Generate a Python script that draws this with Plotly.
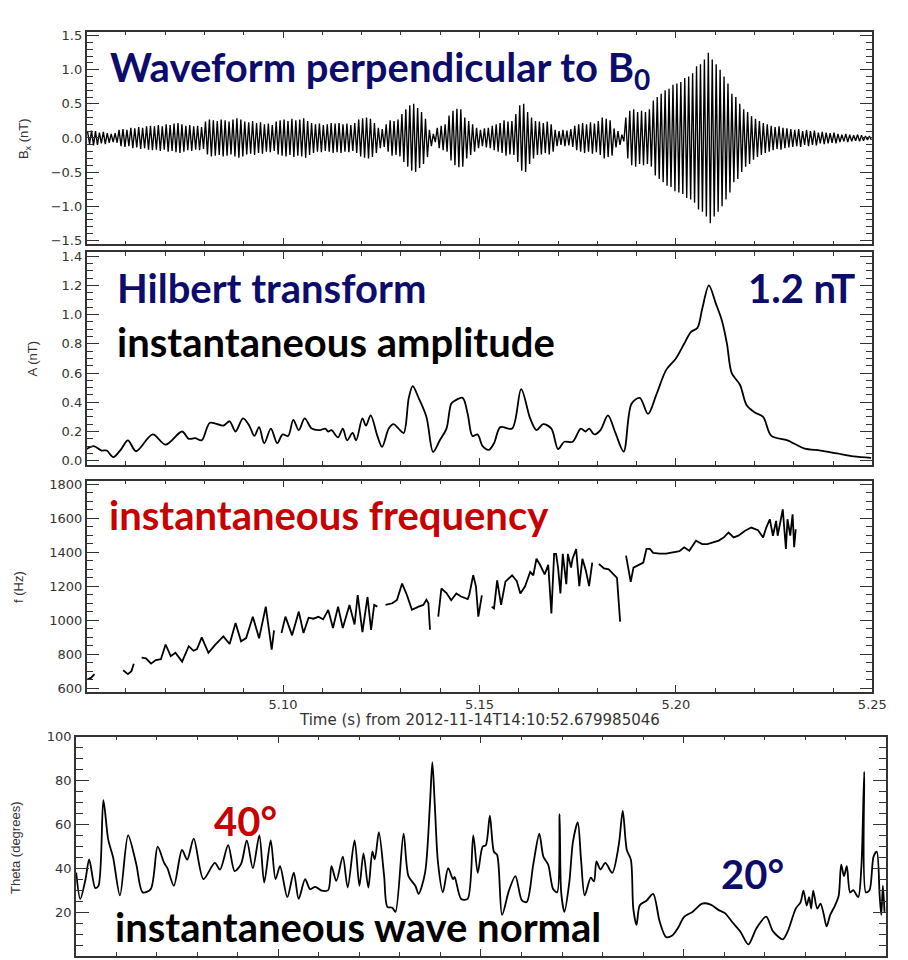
import plotly.graph_objects as go

# ---------------- data ----------------
# Panel 1: envelope of the perpendicular waveform (nT), read every 1 ms;
# each sample is drawn as one oscillation (crest then trough)
bx_start = 5.0505
bx_step = 0.001
bx_env = [
    0.09, 0.11, 0.10, 0.08, 0.09, 0.07, 0.06, 0.07, 0.12, 0.13,
    0.12, 0.15, 0.14, 0.16, 0.15, 0.17, 0.18, 0.17, 0.19, 0.17,
    0.20, 0.19, 0.21, 0.22, 0.20, 0.18, 0.19, 0.17, 0.18, 0.16,
    0.24, 0.27, 0.26, 0.25, 0.27, 0.26, 0.24, 0.27, 0.29, 0.27,
    0.24, 0.23, 0.25, 0.22, 0.23, 0.20, 0.21, 0.19, 0.24, 0.26,
    0.27, 0.25, 0.28, 0.26, 0.27, 0.29, 0.25, 0.22, 0.20, 0.21,
    0.19, 0.20, 0.22, 0.21, 0.22, 0.20, 0.21, 0.19, 0.22, 0.27,
    0.29, 0.30, 0.28, 0.22, 0.15, 0.13, 0.20, 0.26, 0.25, 0.27,
    0.35, 0.42, 0.48, 0.50, 0.44, 0.38, 0.28, 0.12, 0.06, 0.15,
    0.18, 0.20, 0.33, 0.40, 0.43, 0.42, 0.30, 0.25, 0.20, 0.15,
    0.12, 0.14, 0.15, 0.18, 0.20, 0.22, 0.26, 0.24, 0.25, 0.35,
    0.48, 0.50, 0.38, 0.30, 0.25, 0.24, 0.22, 0.24, 0.20, 0.12,
    0.10, 0.12, 0.11, 0.13, 0.18, 0.20, 0.22, 0.20, 0.23, 0.21,
    0.25, 0.30, 0.28, 0.26, 0.14, 0.10, 0.05, 0.30, 0.40, 0.42,
    0.38, 0.40, 0.38, 0.42, 0.55, 0.60, 0.65, 0.70, 0.72, 0.78,
    0.80, 0.82, 0.88, 0.90, 0.95, 1.05, 1.08, 1.15, 1.25, 1.15,
    1.08, 1.00, 0.90, 0.80, 0.65, 0.60, 0.50, 0.42, 0.38, 0.32,
    0.28, 0.25, 0.22, 0.20, 0.18, 0.16, 0.17, 0.15, 0.14, 0.13,
    0.12, 0.13, 0.10, 0.12, 0.10, 0.11, 0.08, 0.09, 0.08, 0.07,
    0.08, 0.06, 0.05, 0.06, 0.05, 0.04, 0.05, 0.04, 0.03, 0.03,
]
bx_t = [round(bx_start + i * bx_step, 4) for i in range(len(bx_env))]

# Panel 2: Hilbert instantaneous amplitude (nT)
amp_t = [5.0500, 5.0518, 5.0538, 5.0551, 5.0568, 5.0588, 5.0605, 5.0626, 5.0668, 5.0701,
         5.0743, 5.0760, 5.0776, 5.0793, 5.0814, 5.0848, 5.0864, 5.0879, 5.0898, 5.0914,
         5.0927, 5.0939, 5.0952, 5.0969, 5.0985, 5.0999, 5.1013, 5.1026, 5.1040, 5.1055,
         5.1073, 5.1094, 5.1107, 5.1115, 5.1123, 5.1140, 5.1152, 5.1163, 5.1177, 5.1186,
         5.1202, 5.1211, 5.1223, 5.1240, 5.1252, 5.1269, 5.1281, 5.1294, 5.1307, 5.1320,
         5.1330, 5.1345, 5.1365, 5.1382, 5.1399, 5.1416, 5.1428, 5.1437, 5.1457, 5.1470,
         5.1482, 5.1495, 5.1508, 5.1524, 5.1537, 5.1553, 5.1583, 5.1606, 5.1629, 5.1645,
         5.1662, 5.1683, 5.1700, 5.1716, 5.1737, 5.1758, 5.1770, 5.1779, 5.1792, 5.1808,
         5.1827, 5.1846, 5.1867, 5.1887, 5.1908, 5.1929, 5.1950, 5.1975, 5.2000, 5.2021,
         5.2038, 5.2055, 5.2067, 5.2084, 5.2101, 5.2117, 5.2130, 5.2142, 5.2163, 5.2180,
         5.2201, 5.2222, 5.2243, 5.2284, 5.2326, 5.2368, 5.2410, 5.2452, 5.2497]
amp_v = [0.08, 0.10, 0.07, 0.07, 0.025, 0.08, 0.14, 0.065, 0.18, 0.11,
         0.20, 0.15, 0.155, 0.14, 0.26, 0.24, 0.27, 0.20, 0.29, 0.24,
         0.17, 0.23, 0.12, 0.22, 0.12, 0.18, 0.17, 0.28, 0.21, 0.29,
         0.22, 0.21, 0.22, 0.20, 0.21, 0.16, 0.22, 0.14, 0.19, 0.14,
         0.29, 0.24, 0.31, 0.17, 0.095, 0.22, 0.25, 0.22, 0.19, 0.43,
         0.51, 0.43, 0.30, 0.06, 0.14, 0.22, 0.39, 0.41, 0.43, 0.32,
         0.17, 0.18, 0.10, 0.075, 0.12, 0.23, 0.22, 0.49, 0.29, 0.21,
         0.25, 0.22, 0.08, 0.13, 0.13, 0.22, 0.20, 0.22, 0.18, 0.21,
         0.31, 0.19, 0.063, 0.39, 0.43, 0.32, 0.45, 0.62, 0.70, 0.80,
         0.88, 0.91, 1.04, 1.20, 1.08, 0.96, 0.80, 0.60, 0.52, 0.38,
         0.33, 0.30, 0.17, 0.14, 0.085, 0.07, 0.05, 0.03, 0.02]

# Panel 3: instantaneous frequency (Hz); None marks gaps in the trace
freq_t = [5.0502, 5.0511, 5.0520, 5.0560,
          5.0593, 5.0605, 5.0614, 5.0620, 5.0630,
          5.0640, 5.0651, 5.0664, 5.0676, 5.0689, 5.0701, 5.0714, 5.0726, 5.0743, 5.0760,
          5.0772, 5.0781, 5.0793, 5.0810, 5.0827, 5.0848, 5.0864, 5.0879, 5.0893, 5.0906,
          5.0923, 5.0939, 5.0956, 5.0971, 5.0977, 5.0986,
          5.0996, 5.1006, 5.1023, 5.1040, 5.1052, 5.1065, 5.1077, 5.1090, 5.1102, 5.1115,
          5.1127, 5.1140, 5.1152, 5.1169, 5.1182, 5.1190, 5.1202, 5.1215, 5.1224, 5.1232,
          5.1240, 5.1250,
          5.1261, 5.1278, 5.1290, 5.1303, 5.1315, 5.1328, 5.1345, 5.1357, 5.1365, 5.1370,
          5.1374, 5.1385,
          5.1395, 5.1403, 5.1416, 5.1428, 5.1441, 5.1453, 5.1470, 5.1474, 5.1484, 5.1491,
          5.1497, 5.1506, 5.1518,
          5.1531, 5.1537, 5.1545, 5.1555, 5.1566, 5.1583, 5.1595, 5.1604, 5.1616, 5.1629,
          5.1637, 5.1645, 5.1654, 5.1666, 5.1675, 5.1683, 5.1690, 5.1695, 5.1700, 5.1706,
          5.1712, 5.1721, 5.1725, 5.1733, 5.1737, 5.1746, 5.1754, 5.1762, 5.1771, 5.1779,
          5.1787, 5.1795,
          5.1804, 5.1817, 5.1829, 5.1842, 5.1850, 5.1858, 5.1865,
          5.1873, 5.1879, 5.1885, 5.1892, 5.1904, 5.1917, 5.1925, 5.1934, 5.1942, 5.1959,
          5.1975, 5.1992, 5.2009, 5.2021, 5.2034, 5.2051, 5.2067, 5.2080, 5.2092, 5.2109,
          5.2122, 5.2134, 5.2147, 5.2159, 5.2176, 5.2192, 5.2209, 5.2222, 5.2230, 5.2239,
          5.2247, 5.2255, 5.2259, 5.2268, 5.2272, 5.2280, 5.2284, 5.2291, 5.2297, 5.2301,
          5.2305]
freq_v = [652, 660, 682, None,
          705, 682, 700, 744, None,
          779, 775, 744, 765, 770, 857, 788, 808, 756, 847,
          820, 830, 899, 808, 855, 905, 860, 983, 876, 895,
          1021, 894, 1080, 827, 940, None,
          925, 1021, 911, 1051, 925, 1015, 1009, 1020, 1005, 1061,
          954, 1080, 954, 1090, 975, 1148, 930, 1137, 943, 1090,
          1080, None,
          1090, 1100, 1120, 1216, 1150, 1061, 1080, 1090, 1120, 1100,
          944, None,
          1021, 1187, 1160, 1118, 1158, 1140, 1125, 1150, 1265, 1200,
          1021, 1146, None,
          1080, 1070, 1235, 1090, 1227, 1265, 1230, 1158, 1200, 1284,
          1265, 1362, 1327, 1270, 1327, 1040, 1391, 1391, 1310, 1158,
          1391, 1212, 1391, 1310, 1362, 1420, 1201, 1362, 1290, 1201,
          1340, None,
          1331, 1305, 1300, 1266, 1250, 992, None,
          1381, 1300, 1226, 1310, 1323, 1340, 1420, 1420, 1397, 1392,
          1392, 1400, 1407, 1430, 1410, 1469, 1449, 1449, 1459, 1469,
          1488, 1517, 1488, 1498, 1527, 1546, 1530, 1488, 1546, 1595,
          1498, 1585, 1498, 1595, 1653, 1420, 1595, 1498, 1624, 1430,
          1536]

# Panel 4: instantaneous wave normal angle (degrees)
theta_t = [5.0501, 5.0511, 5.0524, 5.0533, 5.0548, 5.0556, 5.0568, 5.0580, 5.0592, 5.0609,
           5.0629, 5.0649, 5.0665, 5.0685, 5.0702, 5.0718, 5.0726, 5.0742, 5.0762, 5.0775,
           5.0791, 5.0815, 5.0843, 5.0856, 5.0876, 5.0892, 5.0908, 5.0922, 5.0937, 5.0953,
           5.0965, 5.0981, 5.0993, 5.1004, 5.1022, 5.1038, 5.1050, 5.1066, 5.1078, 5.1091,
           5.1107, 5.1123, 5.1131, 5.1143, 5.1159, 5.1171, 5.1188, 5.1200, 5.1210, 5.1222,
           5.1232, 5.1238, 5.1248, 5.1261, 5.1269, 5.1281, 5.1289, 5.1309, 5.1321, 5.1338,
           5.1346, 5.1362, 5.1374, 5.1380, 5.1386, 5.1394, 5.1406, 5.1419, 5.1431, 5.1435,
           5.1451, 5.1467, 5.1481, 5.1492, 5.1504, 5.1512, 5.1522, 5.1532, 5.1540, 5.1552,
           5.1569, 5.1585, 5.1601, 5.1613, 5.1629, 5.1644, 5.1654, 5.1666, 5.1678, 5.1688,
           5.1694, 5.1698, 5.1706, 5.1718, 5.1727, 5.1739, 5.1747, 5.1756, 5.1771, 5.1779,
           5.1785, 5.1795, 5.1807, 5.1824, 5.1840, 5.1850, 5.1860, 5.1870, 5.1876, 5.1884,
           5.1892, 5.1909, 5.1925, 5.1941, 5.1957, 5.1973, 5.1986, 5.2002, 5.2022, 5.2046,
           5.2067, 5.2087, 5.2103, 5.2119, 5.2140, 5.2160, 5.2180, 5.2204, 5.2221, 5.2245,
           5.2257, 5.2277, 5.2289, 5.2296, 5.2304, 5.2310, 5.2315, 5.2320, 5.2330, 5.2338,
           5.2346, 5.2353, 5.2362, 5.2374, 5.2383, 5.2389, 5.2396, 5.2403, 5.2411, 5.2419,
           5.2431, 5.2439, 5.2446, 5.2450, 5.2459, 5.2469, 5.2477, 5.2484, 5.2488, 5.2492,
           5.2496]
theta_v = [38, 26, 35, 44, 31, 32, 71, 53, 45, 27.6,
           55, 42, 29, 30.5, 49.8, 42.4, 40, 32, 48.3, 43.9,
           53.5, 35, 42.4, 39.4, 50.5, 38.7, 42, 52.7, 40, 55,
           33.5, 52.7, 35, 40.9, 26.8, 38, 26, 35, 30.5, 31.5,
           29.8, 30, 40.9, 34.2, 45.3, 31.2, 52.7, 32, 46.8, 31.2,
           47.5, 44, 56.4, 36.4, 22.4, 22, 20.1, 55.7, 36.4, 32,
           28.3, 37.9, 69, 88.3, 69, 42.4, 29, 40, 35, 36,
           26, 26, 55, 37.9, 49.8, 50.5, 63.9, 47.5, 46, 18.7,
           29.8, 36.4, 25.3, 24.6, 41.6, 55.7, 45.3, 41.6, 30.5, 29,
           64.6, 29, 20.1, 33.5, 52, 60.9, 43.9, 27.6, 35.7, 34,
           43.1, 39.4, 42.4, 37.9, 50.5, 66.1, 48.3, 43.9, 21.6, 14.2,
           23.1, 25.3, 28.3, 15.7, 8.6, 9.5, 12.7, 17.9, 20.1, 23.9,
           23.4, 20.9, 19.4, 15.7, 11.2, 5.3, 12.7, 17.9, 11.2, 7.6,
           11.2, 21.6, 24.6, 29.8, 23, 26.8, 21.6, 29.8, 21.6, 23.9,
           19, 13.5, 18.7, 23.1, 27.6, 41.6, 36.4, 40.9, 29, 30,
           26.8, 40.9, 83.9, 29, 30, 45.3, 47.5, 27.6, 18.7, 32,
           20.1]

x_range = [5.05, 5.25]
x_tickvals = [5.10, 5.15, 5.20, 5.25]
x_ticktext = ["5.10", "5.15", "5.20", "5.25"]

# ---------------- build the oscillation trace from the envelope ----------------
half = bx_step / 4.0
wave_x, wave_y = [], []
for t, a in zip(bx_t, bx_env):
    wave_x += [t - half, t + half]
    wave_y += [a, -a]

# ---------------- layout helpers ----------------
W, H = 908, 960
def fx(px):
    return px / W
def fy(py):
    return 1 - py / H

AX = "#333333"
TICKFONT = dict(family="DejaVu Sans", size=13, color="#333333")
NAVY = "#0c0c6c"
RED = "#c80000"

def xaxis_cfg(domain, anchor, labels=False):
    return dict(domain=domain, anchor=anchor, range=x_range, showgrid=False, zeroline=False,
                showline=True, linecolor=AX, linewidth=1.5, mirror="ticks",
                ticks="inside", ticklen=7, tickwidth=1.2, tickcolor=AX,
                tickmode="array", tickvals=x_tickvals, ticktext=x_ticktext,
                minor=dict(dtick=0.01, tick0=5.05, ticks="inside", ticklen=4,
                           tickwidth=1, tickcolor=AX),
                showticklabels=labels, tickfont=TICKFONT)

def yaxis_cfg(domain, anchor, rng, vals, mdtick, fmt):
    return dict(domain=domain, anchor=anchor, range=rng, showgrid=False, zeroline=False,
                showline=True, linecolor=AX, linewidth=1.5, mirror="ticks",
                ticks="inside", ticklen=13, tickwidth=1.2, tickcolor=AX,
                tickmode="array", tickvals=vals, tickformat=fmt,
                minor=dict(dtick=mdtick, tick0=0, ticks="inside", ticklen=7, tickwidth=1,
                           tickcolor=AX),
                tickfont=TICKFONT)

dom_x = [fx(88), fx(886)]
dom_x4 = [fx(77), fx(900)]

fig = go.Figure()
fig.add_trace(go.Scatter(x=wave_x, y=wave_y, mode="lines", line=dict(color="black", width=1.35),
                         xaxis="x", yaxis="y", showlegend=False, hoverinfo="skip"))
fig.add_trace(go.Scatter(x=amp_t, y=amp_v, mode="lines",
                         line=dict(color="black", width=1.8, shape="spline", smoothing=0.9),
                         xaxis="x2", yaxis="y2", showlegend=False))
fig.add_trace(go.Scatter(x=freq_t, y=freq_v, mode="lines", connectgaps=False,
                         line=dict(color="black", width=1.8),
                         xaxis="x3", yaxis="y3", showlegend=False))
fig.add_trace(go.Scatter(x=theta_t, y=theta_v, mode="lines",
                         line=dict(color="black", width=1.8, shape="spline", smoothing=0.8),
                         xaxis="x4", yaxis="y4", showlegend=False))

fig.update_layout(
    width=W, height=H, margin=dict(l=0, r=0, t=0, b=0),
    paper_bgcolor="white", plot_bgcolor="white", showlegend=False,
    xaxis=xaxis_cfg(dom_x, "y"),
    yaxis=yaxis_cfg([fy(240), fy(25)], "x", [-1.558, 1.558],
                    [-1.5, -1.0, -0.5, 0.0, 0.5, 1.0, 1.5], 0.1, ".1f"),
    xaxis2=xaxis_cfg(dom_x, "y2"),
    yaxis2=yaxis_cfg([fy(463), fy(248)], "x2", [-0.027, 1.427],
                     [0.0, 0.2, 0.4, 0.6, 0.8, 1.0, 1.2, 1.4], 0.05, ".1f"),
    xaxis3=xaxis_cfg(dom_x, "y3", labels=True),
    yaxis3=yaxis_cfg([fy(693), fy(479)], "x3", [576.7, 1823.3],
                     [600, 800, 1000, 1200, 1400, 1600, 1800], 50, "d"),
    xaxis4=xaxis_cfg(dom_x4, "y4"),
    yaxis4=yaxis_cfg([0, fy(738)], "x4", [0, 100], [0, 20, 40, 60, 80, 100], 5, "d"),
)

ann = []
# axis titles
ytitle_font = dict(family="Liberation Sans", size=13, color="#333333")
for txt, x, y in [("B<sub>x</sub> (nT)", 25, 133), ("A (nT)", 33, 356),
                  ("f (Hz)", 19, 587), ("Theta (degrees)", 15, 850)]:
    ann.append(dict(text=txt, x=fx(x), y=fy(y), xref="paper", yref="paper",
                    textangle=-90, showarrow=False, font=ytitle_font,
                    xanchor="center", yanchor="middle"))
ann.append(dict(text="Time (s) from 2012-11-14T14:10:52.679985046", x=fx(487), y=fy(721),
                xref="paper", yref="paper", showarrow=False,
                font=dict(family="DejaVu Sans", size=15, color="#333333"),
                xanchor="center", yanchor="middle"))

S = 40
def big(text, left, baseline, color, anchor="left"):
    return dict(text="<b>" + text + "</b>", x=fx(left), y=fy(baseline - 0.99 * S),
                xref="paper", yref="paper", showarrow=False, borderpad=0,
                font=dict(family="Lato", size=S, color=color),
                xanchor=anchor, yanchor="top")

ann += [
    big("Waveform perpendicular to B<sub>0</sub>", 111, 75, NAVY),
    big("Hilbert transform", 118, 299, NAVY),
    big("instantaneous amplitude", 118, 353, "black"),
    big("1.2 nT", 869, 299, NAVY, anchor="right"),
    big("instantaneous frequency", 110, 528, RED),
    big("40°", 216, 838, RED),
    big("20°", 731, 891, NAVY),
    big("instantaneous wave normal", 116, 945, "black"),
]
fig.update_layout(annotations=ann)

fig.write_html("out.html")
